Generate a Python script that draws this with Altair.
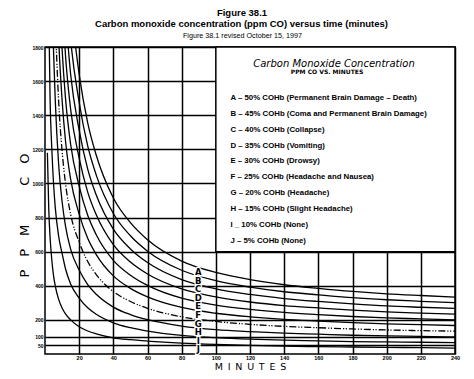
import altair as alt
import pandas as pd

# ---------------- data ----------------
curve_ids = ["A", "B", "C", "D", "E", "F", "G", "H", "I", "J"]

A_t = [15, 20, 25, 30, 40, 50, 60, 80, 100, 120, 140, 160, 180, 200, 220, 240]
A_v = [2050, 1640, 1355, 1165, 915, 770, 670, 545, 478, 436, 406, 385, 367, 353, 343, 334]

B_t = [12, 15, 20, 25, 30, 40, 50, 60, 80, 100, 120, 140, 160, 180, 200, 220, 240]
B_v = [2250, 1845, 1476, 1220, 1049, 824, 693, 603, 491, 430, 392, 365, 347, 330, 318, 309, 301]

C_t = [12, 15, 20, 25, 30, 40, 50, 60, 80, 100, 120, 140, 160, 180, 200, 220, 240]
C_v = [2000, 1640, 1312, 1084, 932, 732, 616, 536, 436, 382, 349, 325, 308, 294, 282, 274, 267]

D_t = [10, 12, 15, 20, 25, 30, 40, 50, 60, 80, 100, 120, 140, 160, 180, 200, 220, 240]
D_v = [2086, 1750, 1435, 1148, 949, 816, 641, 539, 469, 382, 335, 305, 284, 270, 257, 247, 240, 234]

E_t = [8, 10, 12, 15, 20, 25, 30, 40, 50, 60, 80, 100, 120, 140, 160, 180, 200, 220, 240]
E_v = [2220, 1788, 1500, 1230, 984, 813, 699, 549, 462, 402, 327, 287, 262, 244, 231, 220, 212, 206, 200]

F_t = [6, 8, 10, 12, 15, 20, 25, 30, 40, 50, 60, 80, 100, 120, 140, 160, 180, 200, 220, 240]
F_v = [2483, 1850, 1490, 1250, 1025, 820, 678, 583, 458, 385, 335, 273, 239, 218, 203, 193, 184, 177, 172, 167]

G_t = [5, 6, 8, 10, 12, 15, 20, 25, 30, 40, 50, 60, 80, 100, 120, 140, 160, 180, 200, 220, 240]
G_v = [2366, 1986, 1480, 1192, 1000, 820, 656, 542, 466, 366, 308, 268, 218, 191, 174, 162, 154, 147, 141, 137, 134]

H_t = [4, 5, 6, 8, 10, 12, 15, 20, 25, 30, 40, 50, 60, 80, 100, 120, 140, 160, 180, 200, 220, 240]
H_v = [2202, 1775, 1490, 1110, 894, 750, 615, 492, 407, 350, 275, 231, 201, 164, 143, 131, 122, 116, 110, 106, 103, 100]

I_t = [2, 3, 4, 5, 6, 8, 10, 12, 15, 20, 25, 30, 40, 50, 60, 80, 100, 120, 140, 160, 180, 200, 220, 240]
I_v = [2150, 1480, 1200, 1000, 860, 690, 590, 500, 410, 328, 271, 233, 183, 154, 134, 109, 96, 87, 81, 77, 73, 71, 69, 67]

J_t = [1.4, 2.2, 3, 4, 5, 6, 8, 10, 12, 15, 20, 25, 30, 40, 50, 60, 80, 100, 120, 140, 160, 180, 200, 220, 240]
J_v = [1180, 850, 680, 550, 460, 400, 320, 270, 235, 200, 160, 135, 118, 95, 84, 76, 64, 56, 50, 46, 43, 41, 39, 37, 35]

curve_data = {
    "A": (A_t, A_v), "B": (B_t, B_v), "C": (C_t, C_v), "D": (D_t, D_v), "E": (E_t, E_v),
    "F": (F_t, F_v), "G": (G_t, G_v), "H": (H_t, H_v), "I": (I_t, I_v), "J": (J_t, J_v),
}

legend_lines = [
    "A  –  50% COHb (Permanent Brain Damage – Death)",
    "B  –  45% COHb (Coma and Permanent Brain Damage)",
    "C  –  40% COHb (Collapse)",
    "D  –  35% COHb (Vomiting)",
    "E  –  30% COHb (Drowsy)",
    "F  –  25% COHb (Headache and Nausea)",
    "G  –  20% COHb (Headache)",
    "H  –  15% COHb (Slight Headache)",
    "I  _  10% COHb (None)",
    "J  –    5% COHb (None)",
]

x_ticks = [20, 40, 60, 80, 100, 120, 140, 160, 180, 200, 220, 240]
y_ticks = [50, 100, 200, 400, 600, 800, 1000, 1200, 1400, 1600, 1800]

title_1 = "Figure 38.1"
title_2 = "Carbon monoxide concentration (ppm CO) versus time (minutes)"
title_3 = "Figure 38.1 revised October 15, 1997"
box_title = "Carbon  Monoxide  Concentration"
box_sub = "PPM CO VS. MINUTES"

# ---------------- build tables ----------------
rows = []
for cid in curve_ids:
    ts, vs = curve_data[cid]
    for t, v in zip(ts, vs):
        rows.append({"curve": cid, "minutes": t, "ppm": v})
curves = pd.DataFrame(rows)

W, H = 410, 307
xs = alt.Scale(domain=[0, 240], nice=False, zero=False)
ys = alt.Scale(domain=[0, 1800], nice=False, zero=False)

LBL = "Liberation Sans"

x_axis = alt.Axis(values=x_ticks, grid=True, gridColor="black", gridWidth=1.5, gridOpacity=1,
                  ticks=False, domain=False, labelFont=LBL, labelFontWeight="bold",
                  labelFontSize=5.5, labelColor="black", labelPadding=1.5, format="d",
                  title="M\u2002I\u2002N\u2002U\u2002T\u2002E\u2002S", titleFont="DejaVu Sans",
                  titleFontWeight="normal", titleFontSize=9.5, titleColor="black",
                  titleX=205, titleY=15.5, titleBaseline="alphabetic", titleAlign="center",
                  labelFlush=False)
y_axis = alt.Axis(values=y_ticks, grid=True, gridColor="black", gridWidth=1.5, gridOpacity=1,
                  ticks=False, domain=False, labelFont=LBL, labelFontWeight="bold",
                  labelFontSize=5, labelColor="black", labelPadding=2, format="d",
                  title="P\u2003P\u2003M\u2003\u2003\u2003C\u2003O", titleFont="DejaVu Sans",
                  titleFontWeight="normal", titleFontSize=13, titleColor="black",
                  titleAngle=270, titleX=-20.5, titleY=168, titleAlign="center",
                  titleBaseline="middle", labelFlush=False)


def X(field):
    return alt.X(field, scale=xs, axis=x_axis)


def Y(field):
    return alt.Y(field, scale=ys, axis=y_axis)


solid = alt.Chart(curves).transform_filter(alt.datum.curve != "G").mark_line(
    color="black", strokeWidth=1.3, clip=True, interpolate="monotone"
).encode(x=X("minutes:Q"), y=Y("ppm:Q"), detail="curve:N")

dashed = alt.Chart(curves).transform_filter(alt.datum.curve == "G").mark_line(
    color="black", strokeWidth=1.3, clip=True, interpolate="monotone",
    strokeDash=[7, 2, 1.2, 1.5, 1.2, 2]
).encode(x=X("minutes:Q"), y=Y("ppm:Q"))

# legend box (covers minutes 100-240, ppm 600-1800)
box_df = pd.DataFrame({"minutes": [100], "x2": [240], "ppm": [600], "y2": [1800]})
box = alt.Chart(box_df).mark_rect(fill="white", stroke="black", strokeWidth=1.5).encode(
    x=X("minutes:Q"), x2="x2", y=Y("ppm:Q"), y2="y2"
)

box_title_c = alt.Chart(pd.DataFrame({"t": [box_title]})).mark_text(
    font="DejaVu Sans", fontStyle="italic", fontSize=10, color="black", baseline="middle"
).encode(text="t:N", x=alt.value(289), y=alt.value(16.5))
box_sub_c = alt.Chart(pd.DataFrame({"t": [box_sub]})).mark_text(
    font="DejaVu Sans", fontWeight="bold", fontSize=6, color="black", baseline="middle"
).encode(text="t:N", x=alt.value(282), y=alt.value(24.5))

leg_df = pd.DataFrame({"t": legend_lines, "i": list(range(len(legend_lines)))})
leg = alt.Chart(leg_df).transform_calculate(
    ppm="1501 - datum.i * 93"
).mark_text(font=LBL, fontWeight="bold", fontSize=7.8, color="black", align="left",
            baseline="middle").encode(
    text="t:N", x=alt.value(185.5), y=Y("ppm:Q")
)

lab_df = pd.DataFrame({"t": curve_ids, "i": list(range(len(curve_ids)))})
lab_base = alt.Chart(lab_df).transform_calculate(
    ppm="481 - datum.i * 50.5", minutes="89.7"
)
lab_halo = lab_base.mark_text(font="DejaVu Sans", fontWeight="bold", fontSize=8.5,
                              color="white", stroke="white", strokeWidth=2.5,
                              baseline="middle").encode(
    text="t:N", x=X("minutes:Q"), y=Y("ppm:Q")
)
lab = lab_base.mark_text(font="DejaVu Sans", fontWeight="bold", fontSize=8.5,
                         color="black", baseline="middle").encode(
    text="t:N", x=X("minutes:Q"), y=Y("ppm:Q")
)

t1 = alt.Chart(pd.DataFrame({"t": [title_1]})).mark_text(
    font=LBL, fontWeight="bold", fontSize=9.5, color="black", baseline="alphabetic"
).encode(text="t:N", x=alt.value(197), y=alt.value(-31.5))
t2 = alt.Chart(pd.DataFrame({"t": [title_2]})).mark_text(
    font=LBL, fontWeight="bold", fontSize=9.5, color="black", baseline="alphabetic"
).encode(text="t:N", x=alt.value(196.5), y=alt.value(-20))
t3 = alt.Chart(pd.DataFrame({"t": [title_3]})).mark_text(
    font=LBL, fontSize=7.2, color="black", baseline="alphabetic"
).encode(text="t:N", x=alt.value(197.5), y=alt.value(-9.5))

chart = alt.layer(
    solid, dashed, box, box_title_c, box_sub_c, leg, lab_halo, lab, t1, t2, t3
).properties(
    width=W, height=H,
    autosize=alt.AutoSizeParams(type="none"),
    padding={"left": 37, "top": 39, "right": 9, "bottom": 18},
).configure(
    background="white",
    view=alt.ViewConfig(stroke="black", strokeWidth=1.5),
)

chart.save("out.html", embed_options={"renderer": "svg", "actions": False})
